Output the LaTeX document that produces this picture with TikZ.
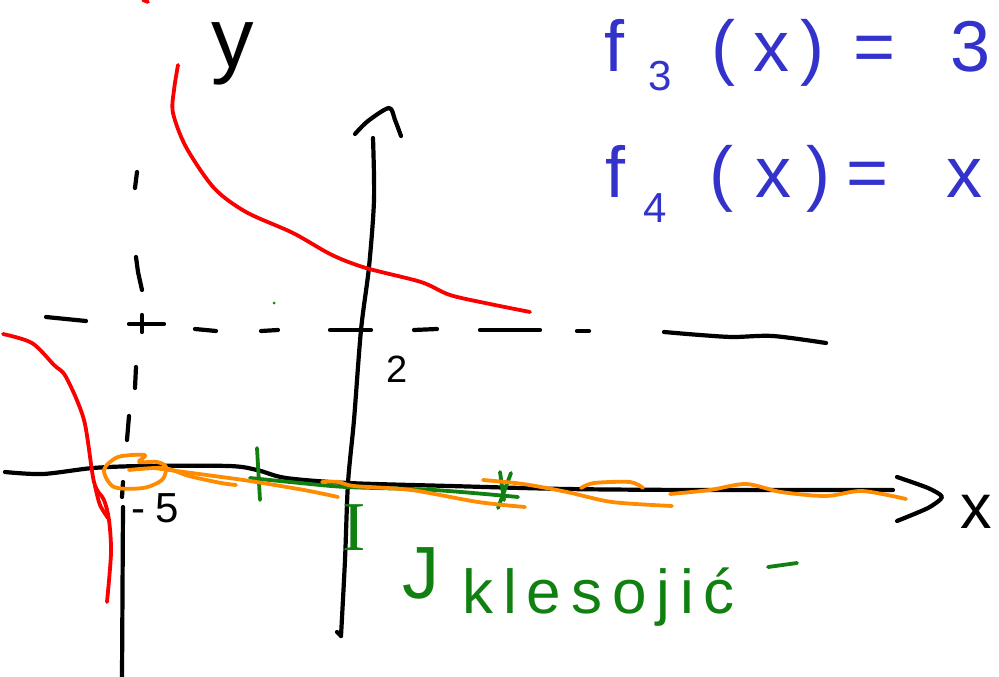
\documentclass[tikz,border=0pt]{standalone}
\usepackage{fontspec}
\setmainfont{Liberation Sans}
\newfontfamily\serifink{Liberation Serif}
\definecolor{blueink}{RGB}{51,51,204}
\definecolor{redink}{RGB}{250,0,0}
\definecolor{orangeink}{RGB}{255,140,0}
\definecolor{greenink}{RGB}{16,128,16}
\tikzset{
  ink/.style={line cap=round, line join=round, line width=4.2pt},
  blackink/.style={ink, black},
  rink/.style={ink, redink, line width=3.8pt},
  oink/.style={ink, orangeink, line width=3.8pt},
  gink/.style={ink, greenink, line width=3.8pt},
  lbl/.style={inner sep=0pt, anchor=base west},
  bluetxt/.style={lbl, text=blueink, font=\fontsize{72}{72}\selectfont},
  bluesub/.style={lbl, text=blueink, font=\fontsize{42}{42}\selectfont},
}
\begin{document}
\begin{tikzpicture}[x=1pt, y=-1pt]
\useasboundingbox (0,0) rectangle (999,677);
\fill[white] (0,0) rectangle (999,677);
\clip (0,0) rectangle (999,677);

% ---- dashed asymptote x = -5 (vertical) ----
\draw[blackink] (137,172) -- (135,188);
\draw[blackink] (136,257) -- (138,272) -- (142,290);
\draw[blackink] (136,367) -- (135,388);
\draw[blackink] (129,416) -- (127,440);
\draw[blackink] (123,482) -- (122,497);
\draw[blackink] (123,507) -- (122,677);
% plus mark
\draw[blackink] (129,324) -- (164,324);
\draw[blackink] (142,315) -- (142,332);

% ---- dashed asymptote y = 2 (horizontal) ----
\draw[blackink] (46,317) -- (86,321);
\draw[blackink] (195,329) -- (216,331);
\draw[blackink] (261,331) -- (278,330);
\draw[blackink] (330,330) -- (371,330);
\draw[blackink] (414,330) -- (437,329);
\draw[blackink] (480,330) -- (540,330);
\draw[blackink] (577,331) -- (589,331);
\draw[blackink] plot[smooth] coordinates {(664,332) (700,335) (733,337) (773,336) (826,343)};

% ---- y axis ----
\draw[blackink] plot[smooth] coordinates {(373,138) (374,200) (369,267) (361,330) (354,420) (348,483) (345,560) (341,636)};
\draw[blackink] (341,636) -- (337,632);
\draw[blackink] plot[smooth] coordinates {(355,134) (368,121) (389,108) (395,120) (401,136)};

% ---- x axis ----
\draw[blackink] plot[smooth] coordinates {(5,472) (43,474) (93,468) (143,466) (229,466) (257,470) (286,478) (348,483) (450,486) (567,489) (700,490) (893,490)};
\draw[blackink] plot[smooth, tension=0.4] coordinates {(897,477) (928,488) (942,497) (928,508) (897,521)};

% ---- red hyperbola ----
\draw[rink] (143,0) -- (148,2);
\draw[rink] plot[smooth] coordinates {(178,65) (174,90) (173,113) (186,147) (214,188) (246,212) (293,233) (332,255) (366,268) (421,282) (450,295) (490,304) (530,312)};
\draw[rink] plot[smooth] coordinates {(3,334) (32,343) (54,365) (66,377) (84,420) (94,482) (104,500) (109,520) (111,553) (107,602)};
\draw[rink] plot[smooth] coordinates {(95,486) (100,505) (108,518)};

% ---- green marks ----
\fill[greenink] (274,303) circle (1.5);
\draw[gink] plot[smooth] coordinates {(250,478) (300,483) (346,487) (434,490) (518,497)};
\draw[gink] (257,448) -- (260,500);
\draw[gink] (500,472) -- (504,500);
\draw[gink] (511,473) -- (498,508);
\draw[gink] (768,567) -- (797,563);

% ---- orange strokes ----
\draw[oink] plot[smooth cycle] coordinates {(145,455) (118,457) (104,470) (114,487) (143,488) (162,480) (166,467) (157,462) (139,462)};
\draw[oink] plot[smooth] coordinates {(129,470) (164,468) (189,476) (221,483) (236,485)};
\draw[oink] plot[smooth] coordinates {(154,468) (214,476) (250,481) (304,490) (338,497)};
\draw[oink] plot[smooth] coordinates {(322,482) (339,482) (354,486) (411,490) (478,502) (525,507)};
\draw[oink] plot[smooth] coordinates {(483,480) (523,484) (567,492) (612,502) (672,506)};
\draw[oink] plot[smooth] coordinates {(581,488) (594,483) (630,482) (643,488)};
\draw[oink] plot[smooth] coordinates {(670,494) (710,490) (746,484) (781,492) (826,496) (862,491) (906,499)};

% ---- labels ----
\node[lbl, font=\fontsize{85}{85}\selectfont] (ylab) at (211,68) {y};
\node[lbl, font=\fontsize{63}{63}\selectfont] (xlab) at (960,528) {x};
\node[lbl, font=\fontsize{38}{38}\selectfont] (two) at (386,382) {2};
\node[lbl, font=\fontsize{42}{42}\selectfont] (mfive) at (131,522) {-\hspace{10pt}5};
\node[lbl, text=greenink, font=\serifink\fontsize{70}{70}\selectfont] (roman) at (342,550) {I};
\node[lbl, text=greenink, font=\fontsize{74}{74}\selectfont] (jmark) at (402,598) {J};
\node[lbl, text=greenink, font={\addfontfeature{LetterSpace=16}\fontsize{62}{62}\selectfont}] (word) at (462,613) {klesojić};

% ---- blue formulas ----
\node[bluetxt] (fa) at (604,72) {f};
\node[bluesub] (fasub) at (648,90) {3};
\node[bluetxt] (pa1) at (711,72) {(};
\node[bluetxt] (xa) at (753,72) {x};
\node[bluetxt] (pa2) at (800,72) {)};
\node[bluetxt] (eqa) at (853,72) {=};
\node[bluetxt] (ra) at (950,72) {3};

\node[bluetxt] (fb) at (605,197) {f};
\node[bluesub] (fbsub) at (643,222) {4};
\node[bluetxt] (pb1) at (709,197) {(};
\node[bluetxt] (xb) at (755,197) {x};
\node[bluetxt] (pb2) at (806,197) {)};
\node[bluetxt] (eqb) at (846,197) {=};
\node[bluetxt] (rb) at (946,197) {x};
\end{tikzpicture}
\end{document}
